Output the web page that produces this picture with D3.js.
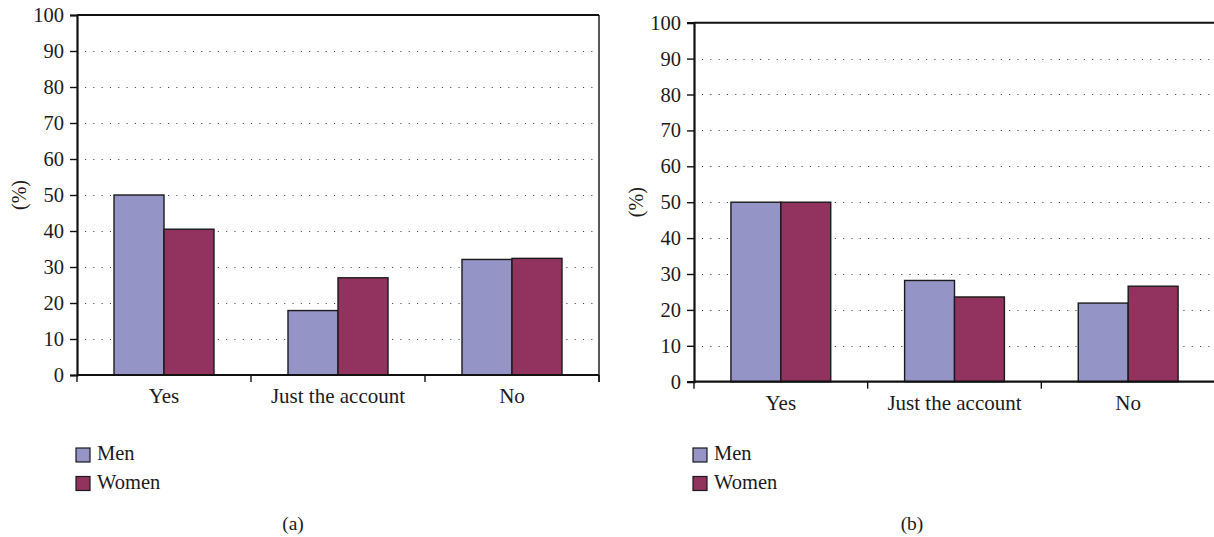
<!DOCTYPE html>
<html>
<head>
<meta charset="utf-8">
<script src="https://cdn.jsdelivr.net/npm/d3@7"></script>
<style>
  html, body { margin: 0; padding: 0; background: #fff; }
  svg text { font-family: "Liberation Serif", "Times New Roman", serif; fill: #1d1a1b; }
</style>
</head>
<body>
<svg id="chart" width="1214" height="537"></svg>
<script>
// Answer categories shared by both panels
const categories = ["Yes", "Just the account", "No"];
const seriesNames = ["Men", "Women"];
const yTicks = [0, 10, 20, 30, 40, 50, 60, 70, 80, 90, 100];

// Panel (a) percentages
const menA = [50.0, 17.9, 32.1];
const womenA = [40.5, 27.0, 32.4];

// Panel (b) percentages
const menB = [50.0, 28.2, 21.9];
const womenB = [50.0, 23.6, 26.6];

const colors = { Men: "#9494c6", Women: "#92335f" };

const svg = d3.select("#chart");

function drawPanel(opts) {
  const { left, right, top, bottom, men, women, caption } = opts;
  const g = svg.append("g");

  const x = d3.scaleBand().domain(categories).range([left, right]);
  const xs = d3.scaleBand().domain(seriesNames).range([0, x.bandwidth()])
    .paddingInner(0).paddingOuter(0.74);
  const y = d3.scaleLinear().domain([0, 100]).range([bottom, top]);

  // dotted horizontal grid
  g.append("g").selectAll("line")
    .data(yTicks.filter(t => t > 0 && t < 100))
    .join("line")
    .attr("x1", left + 8).attr("x2", right)
    .attr("y1", d => Math.round(y(d)) + 0.5).attr("y2", d => Math.round(y(d)) + 0.5)
    .attr("stroke", "#444").attr("stroke-width", 1.1)
    .attr("stroke-dasharray", "1.1,7.2");

  // bars
  const rows = categories.map((c, i) => ({ cat: c, values: [
    { s: "Men", v: men[i] }, { s: "Women", v: women[i] }
  ]}));
  g.append("g").selectAll("g")
    .data(rows).join("g")
    .attr("transform", d => `translate(${x(d.cat)},0)`)
    .selectAll("rect")
    .data(d => d.values).join("rect")
    .attr("x", d => xs(d.s))
    .attr("width", xs.bandwidth())
    .attr("y", d => y(d.v))
    .attr("height", d => y(0) - y(d.v))
    .attr("fill", d => colors[d.s])
    .attr("stroke", "#1a1a1a").attr("stroke-width", 1.4);

  // frame: top and right edges
  g.append("line").attr("x1", left).attr("x2", right)
    .attr("y1", top).attr("y2", top)
    .attr("stroke", "#111").attr("stroke-width", 2);
  g.append("line").attr("x1", right).attr("x2", right)
    .attr("y1", top).attr("y2", bottom + 7)
    .attr("stroke", "#111").attr("stroke-width", 1.4);

  // y axis
  const yAxis = d3.axisLeft(y).tickValues(yTicks).tickSize(7).tickPadding(6);
  const ya = g.append("g").attr("transform", `translate(${left},0)`).call(yAxis);
  ya.select(".domain").attr("stroke", "#111").attr("stroke-width", 2.2);
  ya.selectAll(".tick line").attr("stroke", "#111").attr("stroke-width", 1.4);
  ya.selectAll(".tick text").style("font-size", "20.5px").attr("fill", "#1d1a1b");

  // x axis with ticks at category boundaries
  const xa = g.append("g").attr("transform", `translate(0,${bottom})`);
  xa.append("line").attr("x1", left).attr("x2", right).attr("y1", 0).attr("y2", 0)
    .attr("stroke", "#111").attr("stroke-width", 2.2);
  const bounds = categories.map(c => x(c)).concat([right]);
  xa.selectAll("line.tk").data(bounds).join("line").attr("class", "tk")
    .attr("x1", d => d).attr("x2", d => d).attr("y1", 0).attr("y2", 7)
    .attr("stroke", "#111").attr("stroke-width", 1.4);
  xa.selectAll("text").data(categories).join("text")
    .attr("x", d => x(d) + x.bandwidth() / 2)
    .attr("y", 28)
    .attr("text-anchor", "middle")
    .style("font-size", "21px")
    .text(d => d);

  // y axis title
  g.append("text")
    .attr("transform", `translate(${left - 51},${(top + bottom) / 2}) rotate(-90)`)
    .attr("text-anchor", "middle")
    .style("font-size", "20px")
    .text("(%)");

  // legend
  const lg = g.append("g").attr("transform", `translate(${left - 1},448)`);
  seriesNames.forEach((s, i) => {
    lg.append("rect").attr("x", 0).attr("y", i * 28.5)
      .attr("width", 14).attr("height", 14)
      .attr("fill", colors[s]).attr("stroke", "#1a1a1a").attr("stroke-width", 1.2);
    lg.append("text").attr("x", 21).attr("y", i * 28.5 + 12)
      .style("font-size", "20.5px").text(s);
  });

  // panel caption
  g.append("text")
    .attr("x", opts.captionX).attr("y", 530)
    .attr("text-anchor", "middle")
    .style("font-size", "19.5px")
    .text(caption);
}

drawPanel({ left: 77, right: 599, top: 15, bottom: 375, men: menA, women: womenA, caption: "(a)", captionX: 293 });
drawPanel({ left: 694, right: 1215, top: 22.7, bottom: 381.7, men: menB, women: womenB, caption: "(b)", captionX: 912 });
</script>
</body>
</html>
